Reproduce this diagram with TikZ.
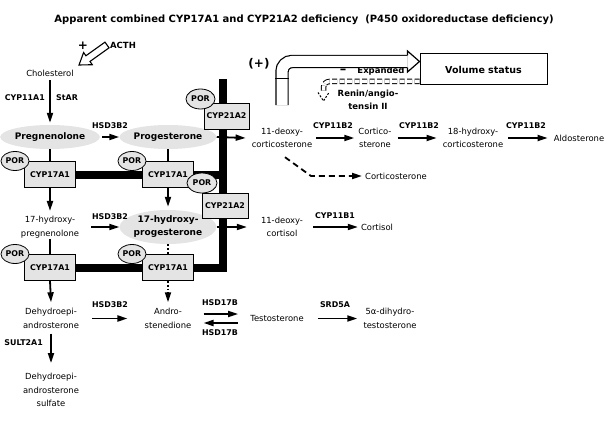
\documentclass[tikz,border=0pt]{standalone}
\usepackage{fontspec}
\setmainfont{DejaVu Sans}
\usetikzlibrary{shapes.geometric,arrows.meta,calc}
\definecolor{lgray}{HTML}{E4E4E4}
\pgfdeclarelayer{bg}
\pgfsetlayers{bg,main}
\begin{document}
\begin{tikzpicture}[x=1pt,y=-1pt,
  txt/.style={font=\fontsize{8.4}{13.5}\selectfont, align=center, inner sep=1pt},
  lab/.style={font=\fontsize{7.9}{9.5}\selectfont\bfseries, inner sep=1pt, align=center},
  blob/.style={ellipse, fill=lgray, font=\fontsize{9}{13}\selectfont\bfseries, minimum width=80pt, minimum height=24pt, inner sep=0pt, align=center},
  enzbox/.style={draw, fill=lgray, line width=0.8pt, minimum width=51pt, minimum height=26pt, inner sep=0pt, font=\fontsize{7.9}{9}\selectfont\bfseries},
  por/.style={ellipse, draw, fill=lgray, line width=0.8pt, minimum width=28pt, minimum height=19pt, inner sep=0pt, font=\fontsize{7.9}{9}\selectfont\bfseries},
  arr/.style={line width=1.8pt, -{Triangle[length=10pt,width=6pt]}},
  conn/.style={line width=1.8pt},
  dotline/.style={dash pattern=on 1.8pt off 2pt},
  bar/.style={line width=8pt, line join=miter}]
\useasboundingbox (0,0) rectangle (609,425);

% title
\node[font=\fontsize{10}{12}\selectfont\bfseries] (title) at (304,20) {Apparent combined CYP17A1 and CYP21A2 deficiency\ \ (P450 oxidoreductase deficiency)};

% ACTH
\node[lab, font=\fontsize{8.5}{10}\selectfont\bfseries] (acth) at (123,45) {ACTH};
\node[font=\fontsize{12}{12}\selectfont\bfseries, inner sep=0pt] (plus) at (83,46) {+};
\node[txt] (chol) at (50,73) {Cholesterol};
\coordinate (aT) at (107,45);
\coordinate (aH) at (79,65);
\coordinate (aB) at ($(aH)!11pt!(aT)$);
\draw[line width=1.1pt, fill=white, line join=miter]
  ($(aT)!3.5pt!90:(aH)$) -- ($(aB)!3.5pt!-90:(aT)$) -- ($(aB)!7.5pt!-90:(aT)$) -- (aH)
  -- ($(aB)!7.5pt!90:(aT)$) -- ($(aB)!3.5pt!90:(aT)$) -- ($(aT)!3.5pt!-90:(aH)$) -- cycle;

\node[lab, anchor=east] (cyp11a1) at (46,98) {CYP11A1};
\node[lab, anchor=west] (star) at (55,98) {StAR};

% main steroids
\node[blob] (preg) at (50,137) {Pregnenolone};
\node[blob] (prog) at (168,137) {Progesterone};
\node[lab] (hsd1) at (110,126) {HSD3B2};
\node[txt] (doc) at (282,138) {11-deoxy-\\corticosterone};
\node[txt] (cortico) at (375,138) {Cortico-\\sterone};
\node[txt] (ohcort) at (473,138) {18-hydroxy-\\corticosterone};
\node[txt] (aldo) at (579,138) {Aldosterone};
\node[lab] (b2a) at (333,126) {CYP11B2};
\node[lab] (b2b) at (419,126) {CYP11B2};
\node[lab] (b2c) at (526,126) {CYP11B2};
\node[txt] (cst) at (396,176) {Corticosterone};
\coordinate (cbend) at (311,176);

\node[txt] (ohpreg) at (50,227) {17-hydroxy-\\pregnenolone};
\node[blob, minimum height=34pt] (ohp) at (168,227) {17-hydroxy-\\progesterone};
\node[lab] (hsd2) at (110,217) {HSD3B2};
\node[txt] (dcl) at (282,227) {11-deoxy-\\cortisol};
\node[lab] (b1) at (335,216) {CYP11B1};
\node[txt] (cortisol) at (377,227) {Cortisol};

\node[txt] (dhea) at (51,318.5) {Dehydroepi-\\androsterone};
\node[lab] (hsd3) at (110,305) {HSD3B2};
\node[txt] (andro) at (168,318.5) {Andro-\\stenedione};
\node[lab] (h17a) at (220,303) {HSD17B};
\node[lab] (h17b) at (220,333) {HSD17B};
\node[txt] (testo) at (277,318.5) {Testosterone};
\node[lab] (srd) at (335,305) {SRD5A};
\node[txt] (dht) at (390,318.5) {5α-dihydro-\\testosterone};
\node[lab, anchor=east] (sult) at (44,343) {SULT2A1};
\node[txt] (dheas) at (51,390) {Dehydroepi-\\androsterone\\sulfate};

% enzyme boxes
\node[enzbox] (box1) at (50,174.5) {CYP17A1};
\node[enzbox] (box2) at (168,174.5) {CYP17A1};
\node[enzbox] (box3) at (50,267.5) {CYP17A1};
\node[enzbox] (box4) at (168,267.5) {CYP17A1};
\node[enzbox, minimum width=45pt] (c21a) at (226.5,116) {CYP21A2};
\node[enzbox, minimum width=46pt, minimum height=25pt] (c21b) at (225,205.5) {CYP21A2};
\node[por] (por1) at (15,161) {POR};
\node[por] (por2) at (132,161) {POR};
\node[por, minimum width=30pt, minimum height=20pt] (por3) at (202,183) {POR};
\node[por, minimum width=29pt, minimum height=20pt] (por4) at (200.5,99) {POR};
\node[por] (por5) at (15,254) {POR};
\node[por] (por6) at (132,254) {POR};

% thick bars
\coordinate (bartop) at (222.5,79);
\begin{pgfonlayer}{bg}
\draw[bar] (box1.east) -- (box2.west);
\draw[bar] (box2.east) -- (bartop |- box2.east);
\draw[bar] (box3.east) -- (box4.west);
\draw[bar] (bartop) -- (bartop |- box4.east) -- (box4.east);
\end{pgfonlayer}

% connectors
\draw[arr] ([shift={(0,3)}]chol.south) -- ([shift={(0,-2)}]preg.north);
\draw[arr] ([shift={(2,0)}]preg.east) -- (prog.west);
\draw[arr] (prog.east) -- ([shift={(-5,0)}]doc.west);
\draw[arr] ([shift={(3,0)}]doc.east) -- ([shift={(-3,0)}]cortico.west);
\draw[arr] ([shift={(5,0)}]cortico.east) -- ([shift={(-5,0)}]ohcort.west);
\draw[arr] ([shift={(4,0)}]ohcort.east) -- ([shift={(-5,0)}]aldo.west);
\draw[arr, dash pattern=on 6pt off 4pt] ([shift={(3,8)}]doc.south) -- (cbend) -- ([shift={(-2,0)}]cst.west);

\draw[conn] (preg.south) -- (preg.south |- box1.north);
\draw[conn] (prog.south) -- (prog.south |- box2.north);
\draw[arr] (box1.south) -- ([shift={(0,-4)}]ohpreg.north);
\draw[arr, shorten >=3pt] (box2.south) -- (ohp.north);
\draw[arr] ([shift={(11,0)}]ohpreg.east) -- (ohp.west);
\draw[arr] (ohp.east) -- ([shift={(-13,0)}]dcl.west);
\draw[arr] ([shift={(9,0)}]dcl.east) -- ([shift={(-2,0)}]cortisol.west);

\draw[conn] (ohpreg.south) -- (ohpreg.south |- box3.north);
\draw[conn, dotline] (ohp.south) -- (box4.north);
\draw[arr] (box3.south) -- ([shift={(0,-5)}]dhea.north);
\draw[arr, dotline] (box4.south) -- ([shift={(0,-5)}]andro.north);

\draw[arr] ([shift={(12,0)}]dhea.east) -- ([shift={(-16,0)}]andro.west);
\draw[arr] ([shift={(11,-4.5)}]andro.east) -- ([shift={(-11,-4.5)}]testo.west);
\draw[arr] ([shift={(-11,4.5)}]testo.west) -- ([shift={(11,4.5)}]andro.east);
\draw[arr] ([shift={(13,0)}]testo.east) -- ([shift={(-5,0)}]dht.west);
\draw[arr] ([shift={(0,4)}]dhea.south) -- ([shift={(0,-9)}]dheas.north);

% volume status part
\node[draw, line width=1pt, minimum width=127pt, minimum height=31pt, inner sep=0pt,
      font=\fontsize{9.5}{11}\selectfont\bfseries] (vol) at (483.5,69.5) {Volume status};
\node[font=\fontsize{12}{12}\selectfont\bfseries, inner sep=0pt] (plusb) at (259,64) {(+)};
\node[lab, font=\fontsize{8.5}{10}\selectfont\bfseries] (exp) at (381,71) {Expanded};
\node[font=\fontsize{13}{13}\selectfont\bfseries, inner sep=0pt] (minus) at (343,71) {–};
\node[lab, font=\fontsize{8.5}{13}\selectfont\bfseries] (renin) at (368,99.5) {Renin/angio-\\tensin II};

\coordinate (vtip) at ($(vol.west)+(0,-8)$);
\coordinate (tubebot) at (282,105);
\draw[line width=1.2pt, double distance=11pt, rounded corners=10pt]
  (tubebot) -- (tubebot |- vtip) -- ($(vtip)+(-12,0)$);
\draw[line width=1.2pt, fill=white, line join=miter]
  ($(vtip)+(-12,-6.1)$) -- ($(vtip)+(-12,-10.5)$) -- (vtip) -- ($(vtip)+(-12,10.5)$) -- ($(vtip)+(-12,6.1)$);
\draw[line width=1pt] ($(tubebot)+(-6.7,-26)$) -- ($(tubebot)+(6.7,-26)$);

\coordinate (dbend) at (323.5,81.5);
\draw[line width=1pt, double distance=3.5pt, rounded corners=6pt, dash pattern=on 5pt off 2.5pt]
  ($(vol.west)+(0,12)$) -- (dbend) -- ($(dbend)+(0,11)$);
\draw[line width=1pt, fill=white, dash pattern=on 2pt off 1.5pt]
  ($(dbend)+(-5.5,11)$) -- ($(dbend)+(0,19.5)$) -- ($(dbend)+(5.5,11)$);
\end{tikzpicture}
\end{document}
